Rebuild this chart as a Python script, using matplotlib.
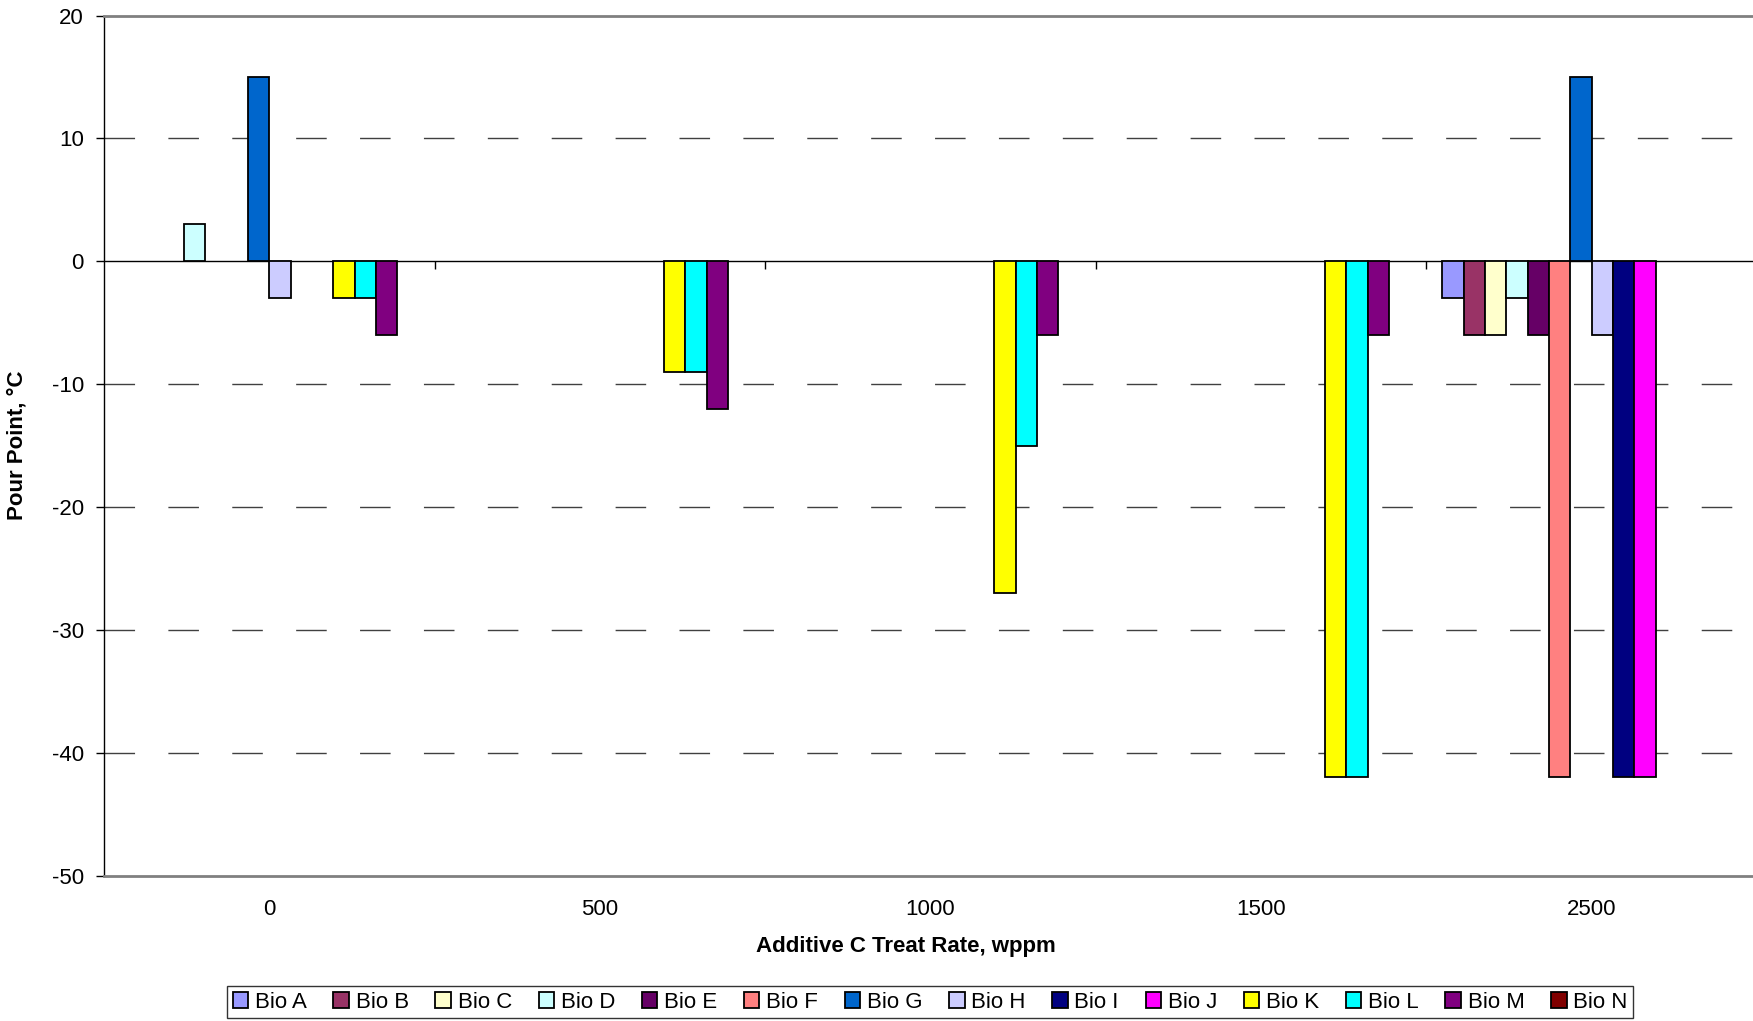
import matplotlib.pyplot as plt
import numpy as np

plt.rcParams['font.family'] = ['Liberation Sans', 'DejaVu Sans']
plt.rcParams['axes.unicode_minus'] = False

nan = np.nan

# treat rates (categories)
rates = ['0', '500', '1000', '1500', '2500']

# pour point per series, one value per treat rate
bio_a = [nan, nan, nan, nan, -3]
bio_b = [nan, nan, nan, nan, -6]
bio_c = [nan, nan, nan, nan, -6]
bio_d = [3, nan, nan, nan, -3]
bio_e = [nan, nan, nan, nan, -6]
bio_f = [nan, nan, nan, nan, -42]
bio_g = [15, nan, nan, nan, 15]
bio_h = [-3, nan, nan, nan, -6]
bio_i = [nan, nan, nan, nan, -42]
bio_j = [nan, nan, nan, nan, -42]
bio_k = [-3, -9, -27, -42, nan]
bio_l = [-3, -9, -15, -42, nan]
bio_m = [-6, -12, -6, -6, nan]
bio_n = [nan, nan, nan, nan, nan]

names = ['Bio A', 'Bio B', 'Bio C', 'Bio D', 'Bio E', 'Bio F', 'Bio G',
         'Bio H', 'Bio I', 'Bio J', 'Bio K', 'Bio L', 'Bio M', 'Bio N']
values = [bio_a, bio_b, bio_c, bio_d, bio_e, bio_f, bio_g,
          bio_h, bio_i, bio_j, bio_k, bio_l, bio_m, bio_n]
colors = ['#9999FF', '#993366', '#FFFFCC', '#CCFFFF', '#660066', '#FF8080',
          '#0066CC', '#CCCCFF', '#000080', '#FF00FF', '#FFFF00', '#00FFFF',
          '#800080', '#800000']

fig = plt.figure(figsize=(17.53, 10.21), dpi=100)
ax = fig.add_axes([0.0593, 0.1424, 0.9430, 0.8423])

x = np.arange(len(rates))
w = 1 / 15.5   # excel style: 150% gap width
for j in range(len(names)):
    ax.bar(x + (j - 6.5) * w, values[j], w, color=colors[j],
           edgecolor='black', linewidth=1.3, label=names[j], zorder=3)

ax.set_xlim(-0.5, 4.5)
ax.set_ylim(-50, 20)
ax.set_yticks(range(-50, 21, 10))

# dashed grid lines
for yv in [-40, -30, -20, -10, 10]:
    ax.axhline(yv, color='#404040', lw=1, dashes=(22, 24), zorder=1)
ax.axhline(0, color='black', lw=1, zorder=2)
# small category tick marks on the zero line
ax.vlines(x[:-1] + 0.5, -0.6, 0, color='black', lw=1, zorder=2)

ax.spines['right'].set_visible(False)
ax.spines['left'].set_color('black')
ax.spines['left'].set_linewidth(1)
ax.spines['top'].set_color('#808080')
ax.spines['top'].set_linewidth(2)
ax.spines['bottom'].set_color('#808080')
ax.spines['bottom'].set_linewidth(2)

ax.set_xticks(x, rates)
ax.tick_params(axis='x', length=0, pad=17, labelsize=16)
ax.tick_params(axis='y', length=5.5, width=1, direction='out', labelsize=16, pad=9)

fig.text(0.0096, 0.5635, 'Pour Point, °C', rotation=90, ha='center', va='center',
         fontsize=16, fontweight='bold')
fig.text(0.517, 0.0734, 'Additive C Treat Rate, wppm', ha='center', va='center',
         fontsize=16, fontweight='bold')

leg = fig.legend(loc='center', bbox_to_anchor=(0.5306, 0.0186), ncol=14,
                 fontsize=16, frameon=True, fancybox=False, edgecolor='black',
                 handlelength=0.7, handleheight=0.7, handletextpad=0.3,
                 columnspacing=1.2, borderpad=0.25, borderaxespad=0)
leg.get_frame().set_linewidth(1)

fig.savefig('out.png', dpi=100)
